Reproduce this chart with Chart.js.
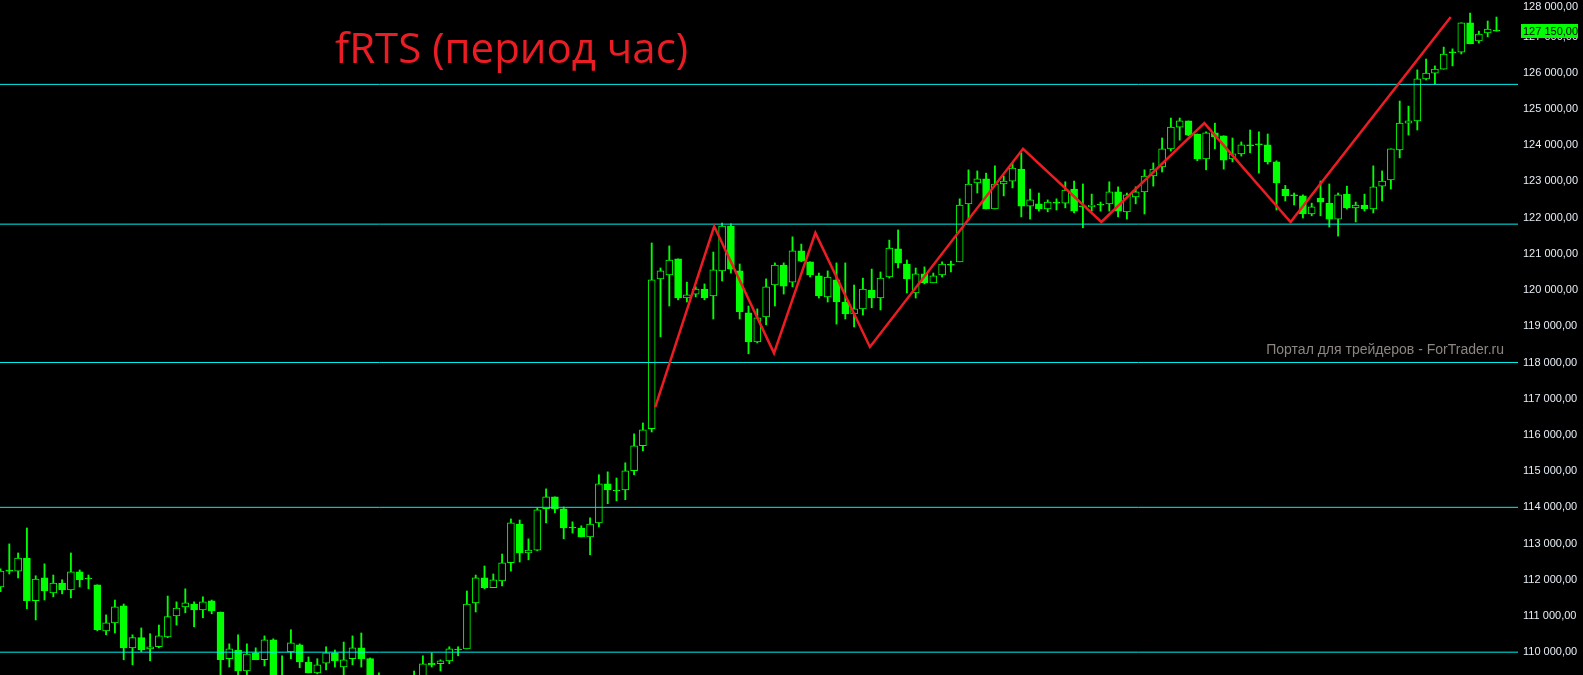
<!DOCTYPE html>
<html lang="ru">
<head>
<meta charset="utf-8">
<title>fRTS (период час)</title>
<script src="https://cdn.jsdelivr.net/npm/chart.js@4.4.1/dist/chart.umd.min.js"></script>
<style>
    html, body { margin: 0; padding: 0; background: #000; overflow: hidden; }
    #wrap { position: relative; width: 1583px; height: 675px; }
    #chart { display: block; }
    .title {
        position: absolute; left: 335px; top: 26px;
        font-family: "Open Sans", sans-serif; font-size: 42px; line-height: 42px;
        color: #ea1c24; white-space: nowrap;
    }
    .watermark {
        position: absolute; right: 79px; top: 342px;
        font-family: "Liberation Sans", sans-serif; font-size: 14px; line-height: 14px;
        color: #8c8580; white-space: nowrap;
    }
</style>
</head>
<body>
<div id="wrap">
    <canvas id="chart" width="1583" height="675"></canvas>
    <div class="title">fRTS (период час)</div>
    <div class="watermark">Портал для трейдеров - ForTrader.ru</div>
</div>
<script>
// hourly candles, oldest first
const opens = [
    111800, 112240, 112240, 112600, 111420, 112050, 111640, 111910, 111720, 112220,
    112020, 111860, 110590, 110810, 111280, 110120, 110400, 110090, 110150, 110420,
    111000, 111250, 111330, 111170, 111420, 111110, 109820, 110060, 109480, 109980,
    109790, 110340, 108900, 110010, 110200, 109730, 109430, 109700, 109980, 109590,
    109820, 110120, 109820, 109000, 108800, 108600, 108500, 108800, 109240, 109700,
    109680, 109760, 110060, 110090, 111360, 112050, 111780, 111970, 112470, 113540,
    112740, 112820, 113960, 114290, 113960, 113430, 113430, 113180, 113570, 114650,
    114450, 114480, 115010, 115700, 116170, 120310, 120420, 120860, 119780, 119890,
    120030, 119840, 120530, 121770, 120530, 119370, 118570, 119260, 120140, 120690,
    120220, 121080, 120780, 120390, 119810, 120280, 119670, 119340, 119480, 120000,
    119780, 120360, 121140, 120720, 119920, 120450, 120200, 120420, 120690, 120780,
    122380, 122960, 123070, 122240, 122930, 123010, 123340, 122320, 122380, 122240,
    122400, 122400, 122790, 122300, 122300, 122350, 122380, 122710, 122160, 122570,
    122710, 123150, 123400, 123900, 124500, 124670, 124310, 123620, 124340, 124260,
    123620, 123760, 123980, 124010, 124010, 123540, 122790, 122600, 122600, 122100,
    122540, 122400, 121960, 122650, 122270, 122350, 122240, 122870, 123040, 123870,
    124610, 124670, 125830, 125990, 126100, 126550, 126570, 127380, 126880, 127100,
    127170
];
const highs = [
    112300, 112990, 112740, 113430, 112110, 112440, 112130, 112000, 112740, 112270,
    112130, 111860, 111030, 111440, 111330, 110480, 110670, 110510, 110750, 111550,
    111390, 111750, 111390, 111530, 111440, 111110, 110230, 110480, 110230, 110120,
    110450, 110370, 109900, 110620, 110230, 109870, 109820, 110150, 110060, 110280,
    110450, 110530, 109840, 109430, 109100, 108900, 109000, 109480, 109900, 109980,
    109790, 110150, 110150, 111690, 112130, 112380, 112160, 112710, 113680, 113650,
    113130, 113980, 114510, 114290, 114010, 113600, 113490, 113710, 114900, 114980,
    114810, 115230, 116030, 116330, 121300, 120610, 121220, 120860, 120220, 120090,
    120170, 121050, 121850, 121830, 120720, 119560, 119480, 120310, 120750, 120750,
    121470, 121270, 120780, 120470, 120530, 120750, 120750, 120140, 120330, 120580,
    120500, 121380, 121660, 120830, 120610, 120640, 120470, 120780, 120800, 122520,
    123320, 123290, 123230, 123430, 123150, 123510, 123790, 122790, 122680, 122490,
    122520, 122990, 123010, 122930, 122650, 122430, 122990, 122850, 122680, 122850,
    123320, 123510, 124200, 124750, 124750, 124670, 124310, 124370, 124610, 124260,
    124200, 124090, 124420, 124370, 124310, 123570, 122890, 122680, 122630, 122400,
    123010, 122930, 122680, 122870, 122430, 122650, 123430, 123290, 123900, 125220,
    125080, 126080, 126380, 126190, 126710, 126660, 127380, 127650, 127150, 127430,
    127540
];
const lows = [
    111670, 112160, 112050, 111200, 110890, 111440, 111530, 111610, 111500, 111800,
    111750, 110590, 110480, 110530, 109790, 109650, 110010, 109760, 110120, 110400,
    110750, 111090, 110700, 110950, 111060, 109240, 109590, 109100, 109100, 109790,
    109620, 108960, 108700, 109820, 109570, 109430, 109400, 109510, 109590, 109240,
    109650, 109590, 108680, 108500, 108400, 108300, 108400, 108600, 109100, 109590,
    109480, 109680, 109900, 110090, 111110, 111750, 111780, 111830, 112240, 112490,
    112550, 112800, 113570, 113850, 113130, 113290, 113180, 112690, 113460, 114100,
    114180, 114210, 114900, 115560, 116080, 118710, 119560, 119730, 119670, 119810,
    119730, 119200, 120250, 120470, 119200, 118240, 118540, 119040, 119560, 119890,
    120090, 120780, 120360, 119780, 119670, 119060, 119200, 118980, 119310, 119510,
    119450, 120330, 120610, 119920, 119780, 120170, 120200, 120360, 120500, 120780,
    121940, 122680, 122240, 122240, 122600, 122820, 122020, 121960, 122180, 122160,
    122210, 122270, 122130, 121720, 122180, 122180, 122180, 122020, 121960, 122380,
    122100, 122870, 123260, 123840, 124140, 124260, 123570, 123320, 123900, 123340,
    123540, 123700, 123790, 123230, 123480, 122210, 122460, 122350, 121990, 122050,
    122050, 121740, 121490, 122240, 121880, 122180, 122130, 122460, 122790, 123650,
    124280, 124420, 125800, 125690, 126100, 126190, 126520, 126800, 126820, 126990,
    127150
];
const closes = [
    112240, 112240, 112600, 111420, 112020, 111690, 111910, 111720, 112220, 112000,
    112020, 110620, 110810, 111250, 110120, 110400, 110060, 110150, 110450, 110980,
    111220, 111360, 111170, 111390, 111140, 109790, 110090, 109480, 109950, 109790,
    110340, 109240, 109100, 110260, 109730, 109430, 109650, 109980, 109760, 109790,
    110120, 109820, 108960, 108800, 108600, 108500, 108800, 109100, 109680, 109650,
    109760, 110090, 110060, 111330, 112050, 111780, 112000, 112470, 113570, 112740,
    112820, 113930, 114290, 113960, 113430, 113430, 113180, 113540, 114650, 114480,
    114450, 115010, 115700, 116140, 120280, 120530, 120830, 119780, 119870, 120030,
    119780, 120560, 121770, 120580, 119400, 118570, 119230, 120090, 120690, 120110,
    121080, 120800, 120420, 119840, 120360, 119670, 119340, 119480, 120030, 119780,
    120330, 121160, 120750, 120310, 120450, 120200, 120390, 120720, 120690, 122350,
    122930, 123070, 122240, 122930, 123010, 123370, 122320, 122490, 122240, 122430,
    122400, 122760, 122180, 122300, 122350, 122350, 122710, 122180, 122630, 122710,
    123150, 123340, 123900, 124500, 124670, 124280, 123620, 124340, 124230, 123590,
    123760, 124010, 123980, 124010, 123540, 122960, 122600, 122600, 122100, 122300,
    122430, 121960, 122630, 122270, 122350, 122240, 122850, 123010, 123900, 124610,
    124670, 125830, 125990, 126100, 126520, 126550, 127380, 126800, 127070, 127210,
    127150
];

// horizontal levels drawn on the chart
const levels = [125680, 121820, 118000, 114000, 110000];

// hand-drawn zigzag: bar index and price of each turn
const zigIndex = [74.4, 81.1, 87.9, 92.6, 98.8, 116.2, 125.1, 136.8, 146.6, 164.8];
const zigPrice = [116770, 121760, 118260, 121580, 118430, 123900, 121880, 124610, 121880, 127540];

const yTicks = [
    110000, 111000, 112000, 113000, 114000, 115000, 116000, 117000, 118000, 119000,
    120000, 121000, 122000, 123000, 124000, 125000, 126000, 127000, 128000
];

const yMin = 109370;
const yMax = 128010;
const barStep = 8.8;     // px between candles
const plotWidth = 1518;
const xMin = -0.5 / barStep;
const xMax = xMin + plotWidth / barStep;

const green = '#00ff00';

function formatPrice(v) {
    const parts = v.toFixed(2).split('.');
    return parts[0].replace(/\B(?=(\d{3})+(?!\d))/g, ' ') + ',' + parts[1];
}

const priceTagPlugin = {
    id: 'priceTag',
    afterDraw(chart) {
        const { ctx, scales } = chart;
        const last = closes[closes.length - 1];
        const y = Math.round(scales.y.getPixelForValue(last));
        const x = scales.y.left + 3;
        ctx.save();
        ctx.fillStyle = green;
        ctx.fillRect(x, y - 7, 57, 14);
        ctx.fillStyle = '#000';
        ctx.font = '11px "Liberation Sans"';
        ctx.textBaseline = 'middle';
        ctx.fillText(formatPrice(last), x + 2, y + 1);
        ctx.restore();
    }
};

document.addEventListener('DOMContentLoaded', function () {
    const ctx = document.getElementById('chart').getContext('2d');

    const zigzag = {
        type: 'line',
        data: zigIndex.map((x, i) => ({ x: x, y: zigPrice[i] })),
        borderColor: '#ec1c24',
        borderWidth: 2.5,
        pointRadius: 0,
        tension: 0,
        order: 0
    };

    const levelSets = levels.map(v => ({
        type: 'line',
        data: [{ x: xMin, y: v }, { x: xMax, y: v }],
        borderColor: '#00f0f0',
        borderWidth: 1,
        pointRadius: 0,
        order: 1
    }));

    const bodies = {
        type: 'bar',
        data: opens.map((o, i) => ({ x: i, y: [o, closes[i]] })),
        backgroundColor: opens.map((o, i) => closes[i] > o ? '#000000' : green),
        borderColor: green,
        borderWidth: 1,
        borderSkipped: false,
        barThickness: 7,
        minBarLength: 1,
        grouped: false,
        order: 2
    };

    const wicks = {
        type: 'bar',
        data: lows.map((l, i) => ({ x: i, y: [l, highs[i]] })),
        backgroundColor: green,
        borderWidth: 0,
        barThickness: 1.2,
        grouped: false,
        order: 3
    };

    new Chart(ctx, {
        type: 'bar',
        data: { datasets: [zigzag, ...levelSets, bodies, wicks] },
        options: {
            responsive: false,
            animation: false,
            layout: { padding: 0 },
            plugins: {
                legend: { display: false },
                tooltip: { enabled: false },
                title: { display: false }
            },
            scales: {
                x: { type: 'linear', min: xMin, max: xMax, display: false, offset: false },
                y: {
                    position: 'right',
                    min: yMin,
                    max: yMax,
                    grid: { display: false, drawTicks: false },
                    border: { display: false },
                    afterBuildTicks: s => { s.ticks = yTicks.map(v => ({ value: v })); },
                    afterFit: s => {
                        s.width = 1583 - plotWidth;
                        s.paddingTop = 0;
                        s.paddingBottom = 0;
                    },
                    ticks: {
                        color: '#e6edf5',
                        font: { family: 'Liberation Sans', size: 11 },
                        padding: 5,
                        autoSkip: false,
                        // top label sits below its line so it stays on the canvas
                        callback: v => v === yTicks[yTicks.length - 1] ? ['', formatPrice(v)] : formatPrice(v)
                    }
                }
            }
        },
        plugins: [priceTagPlugin]
    });
});
</script>
</body>
</html>
